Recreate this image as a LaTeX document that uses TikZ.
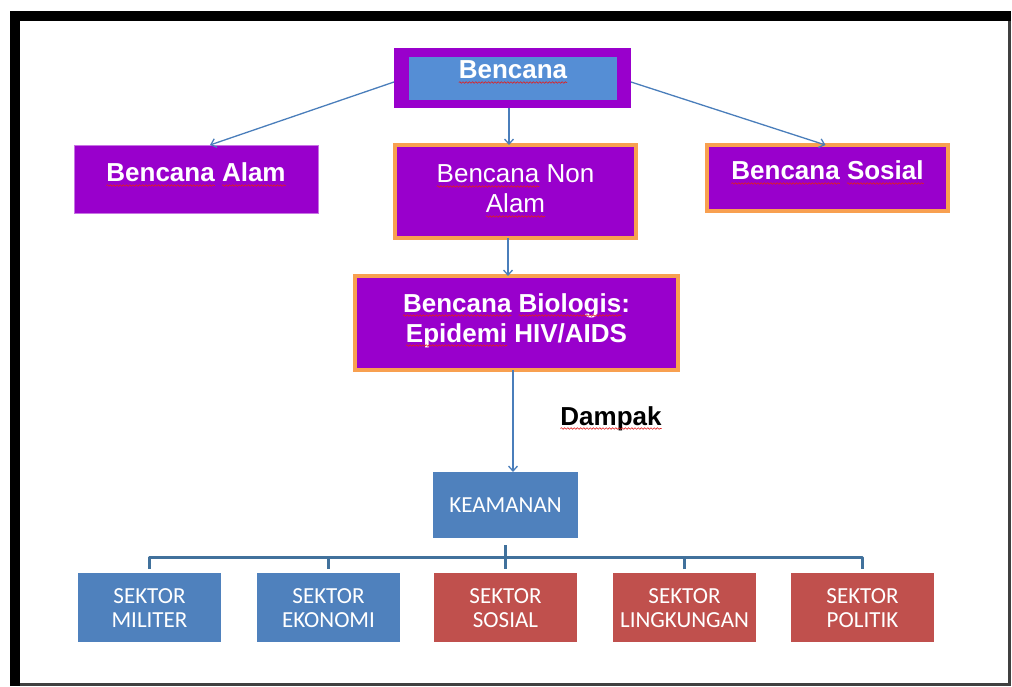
\documentclass[tikz,border=0pt]{standalone}
\usepackage{fontspec}
\setmainfont{Liberation Sans}
\newfontfamily\carlito{Carlito}
\usetikzlibrary{arrows.meta,decorations.pathmorphing,calc}
\definecolor{purp}{HTML}{9900CC}
\definecolor{orng}{HTML}{F8A050}
\definecolor{topblue}{HTML}{558ED5}
\definecolor{secblue}{HTML}{4F81BD}
\definecolor{secred}{HTML}{C0504D}
\definecolor{arrblue}{HTML}{4A7EBB}
\definecolor{treeblue}{HTML}{41719C}
\definecolor{spell}{HTML}{E02020}
\definecolor{framegray}{HTML}{404040}
\tikzset{
  plainw/.style={shape=rectangle,draw=none,fill=none,minimum width=0pt,minimum height=0pt,
    text height=,text depth=,inner sep=0pt,outer sep=0pt},
  box/.style={shape=rectangle,anchor=north west,inner sep=0pt,outer sep=0pt,align=center,text=white},
  ptext/.style={font=\fontsize{26}{30}\selectfont\bfseries},
  rtext/.style={font=\fontsize{26}{30}\selectfont},
  stext/.style={font=\carlito\fontsize{23}{24}\selectfont},
  purpbox/.style={box,fill=purp},
  orbox/.style={box,fill=purp,draw=orng,line width=4pt},
  sector/.style={box,minimum width=143pt,text height=54pt,text depth=15pt,stext},
  arr/.style={draw=arrblue,line width=1.3pt,-{Straight Barb[length=5pt,width=9pt]}},
  tree/.style={draw=treeblue,line width=3pt}
}
\newcommand\sq[1]{\tikz[baseline=0pt]{\node[plainw,anchor=base west](sqw){#1};\draw[overlay,spell,line width=0.6pt,decorate,decoration={snake,amplitude=0.8pt,segment length=3.2pt}]([yshift=-3.5pt]sqw.base west)--([yshift=-3.5pt]sqw.base east);}}
\begin{document}
\begin{tikzpicture}[x=1pt,y=-1pt]
\useasboundingbox (0,0) rectangle (1012,687);
% frame
\fill[black] (10,11) rectangle (1011,21);
\fill[black] (10,11) rectangle (20,686);
\draw[framegray,line width=2.5pt] (1009.5,21) -- (1009.5,684.5) -- (20,684.5);
% top
\node[purpbox,minimum width=237pt,minimum height=60pt] (top) at (394,48) {};
\node[box,fill=topblue,minimum width=208pt,text height=22pt,text depth=21pt,ptext] (topin) at (409,57) {\sq{Bencana}};
% second row
\node[purpbox,draw=purp!55!white,line width=0.8pt,minimum width=244pt,text height=37pt,text depth=31pt,ptext] (alam) at (74,145) {\sq{Bencana} \sq{Alam}};
\node[orbox,minimum width=241pt,text height=68pt,text depth=25pt,rtext] (non) at (395,145) {\sq{Bencana} Non\\\sq{Alam}};
\node[orbox,minimum width=241pt,text height=35pt,text depth=31pt,ptext] (sos) at (707,145) {\sq{Bencana} \sq{Sosial}};
% biologis
\node[orbox,minimum width=323pt,text height=66pt,text depth=28pt,ptext] (bio) at (355,276) {\sq{Bencana} \sq{Biologis}:\\\sq{Epidemi} HIV/AIDS};
% dampak
\node[ptext,anchor=base,inner sep=0pt] (dampak) at (611,425) {\sq{Dampak}};
% keamanan
\node[box,fill=secblue,minimum width=145pt,text height=40pt,text depth=26pt,stext] (kea) at (433,472) {KEAMANAN};
% sectors
\node[sector,fill=secblue] (mil) at (78,573) {SEKTOR\\MILITER};
\node[sector,fill=secblue] (eko) at (257,573) {SEKTOR\\EKONOMI};
\node[sector,fill=secred] (ssos) at (434,573) {SEKTOR\\SOSIAL};
\node[sector,fill=secred] (lin) at (613,573) {SEKTOR\\LINGKUNGAN};
\node[sector,fill=secred] (pol) at (791,573) {SEKTOR\\POLITIK};
% arrows
\draw[arr] ([yshift=-4pt]top.west) -- ([xshift=14pt]alam.north);
\draw[arr] ([yshift=-4pt]top.east) -- ([xshift=-2pt]sos.north);
\draw[arr] ([xshift=-3.5pt]top.south) -- ([xshift=-3.5pt]top.south |- non.north);
\draw[arr] ([xshift=-7.5pt]non.south) -- ([xshift=-7.5pt]non.south |- bio.north);
\draw[arr] ([xshift=-3.5pt]bio.south) -- ([xshift=-3.5pt]bio.south |- kea.north);
% tree
\draw[tree] ([yshift=-7pt]kea.south) -- ([yshift=4pt]ssos.north);
\draw[tree,line join=round] ([yshift=4pt]mil.north) -- ++(0,-12) -| ([yshift=4pt]pol.north);
\draw[tree] ([yshift=4pt]eko.north) -- ++(0,-12);
\draw[tree] ([yshift=4pt]lin.north) -- ++(0,-12);
\end{tikzpicture}
\end{document}
